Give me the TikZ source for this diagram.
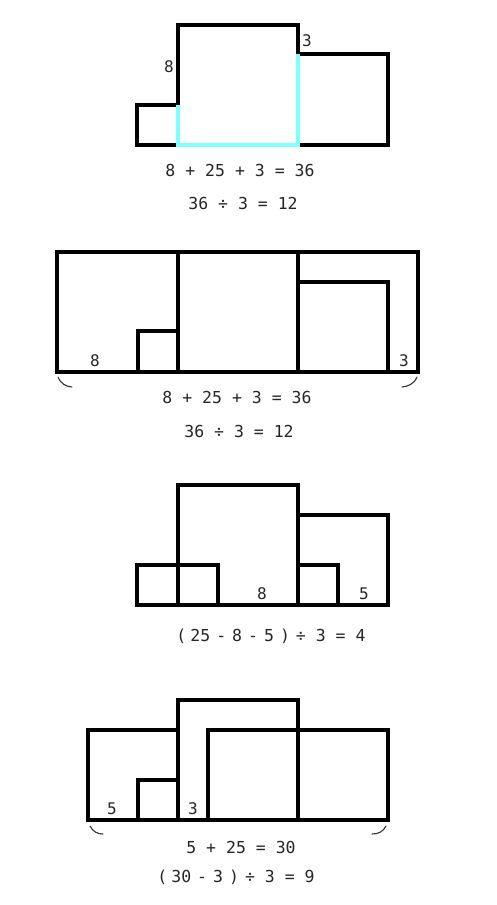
\documentclass[tikz,border=0pt]{standalone}
\usepackage{fontspec}
\newfontfamily\digfont{DejaVu Sans Mono}
\definecolor{hlcyan}{HTML}{80FFFF}
\definecolor{arcgrey}{HTML}{333333}
\newcommand\hsp{\kern6pt}
\newcommand\psp{\kern4pt}
\tikzset{
  box/.style={line width=3.6pt, draw=black},
  hl/.style={line width=3.6pt, draw=hlcyan},
  brk/.style={line width=1.1pt, draw=arcgrey, line cap=round},
  lbl/.style={font=\digfont\fontsize{16}{18}\selectfont, inner sep=0pt, text=black!85},
  eq/.style={font=\digfont\fontsize{16.5}{18}\selectfont, inner sep=0pt, text=black!85}
}
\begin{document}
\begin{tikzpicture}[x=1pt,y=-1pt]
\useasboundingbox[fill=white] (0,0) rectangle (497,905);

% ---------- diagram 1 ----------
\draw[box] (178,25) rectangle (298,145);
\draw[box] (137,105) rectangle (178,145);
\draw[box] (298,54) rectangle (388,145);
\draw[hl] (178,105) -- (178,145) -- (298,145) -- (298,54);
\node[lbl] (a8) at (169,67) {8};
\node[lbl] (a3) at (307,41) {3};
\node[eq] (aeq1) at (240,170) {8 + 25 + 3 = 36};
\node[eq] (aeq2) at (243,203) {36 ÷ 3 = 12};

% ---------- diagram 2 ----------
\draw[box] (57,252) rectangle (418,372);
\draw[box] (178,252) -- (178,372);
\draw[box] (298,252) -- (298,372);
\draw[box] (138,372) -- (138,331) -- (178,331);
\draw[box] (298,282) -- (388,282) -- (388,372);
\node[lbl] (b8) at (95,361) {8};
\node[lbl] (b3) at (404,361) {3};
\coordinate (bl1) at (58,377);
\coordinate (bl2) at (72,387);
\coordinate (br1) at (402,387);
\coordinate (br2) at (417,377);
\draw[brk] (bl1) .. controls (61,384) and (66,386.5) .. (bl2);
\draw[brk] (br1) .. controls (408,386.5) and (414,384) .. (br2);
\node[eq] (beq1) at (237,397) {8 + 25 + 3 = 36};
\node[eq] (beq2) at (239,431) {36 ÷ 3 = 12};

% ---------- diagram 3 ----------
\draw[box] (178,485) rectangle (298,605);
\draw[box] (298,515) rectangle (388,605);
\draw[box] (137,565) rectangle (178,605);
\draw[box] (178,565) rectangle (218,605);
\draw[box] (298,565) rectangle (338,605);
\node[lbl] (c8) at (262,594) {8};
\node[lbl] (c5) at (364,594) {5};
\node[eq] (ceq1) at (271,636) {(\psp 25\hsp -\hsp 8\hsp -\hsp 5\hsp )\hsp ÷ 3 = 4};

% ---------- diagram 4 ----------
\draw[box] (88,730) rectangle (178,820);
\draw[box] (138,780) rectangle (178,820);
\draw[box] (178,700) rectangle (298,820);
\draw[box] (208,730) rectangle (388,820);
\node[lbl] (d5) at (112,809) {5};
\node[lbl] (d3) at (193,809) {3};
\coordinate (dl1) at (90,826);
\coordinate (dl2) at (103,834);
\coordinate (dr1) at (372,834);
\coordinate (dr2) at (386,826);
\draw[brk] (dl1) .. controls (93,832) and (98,834) .. (dl2);
\draw[brk] (dr1) .. controls (378,834) and (383,832) .. (dr2);
\node[eq] (deq1) at (241,847) {5 + 25 = 30};
\node[eq] (deq2) at (236,877) {(\psp 30\hsp -\hsp 3\hsp )\hsp ÷ 3 = 9};
\end{tikzpicture}
\end{document}
